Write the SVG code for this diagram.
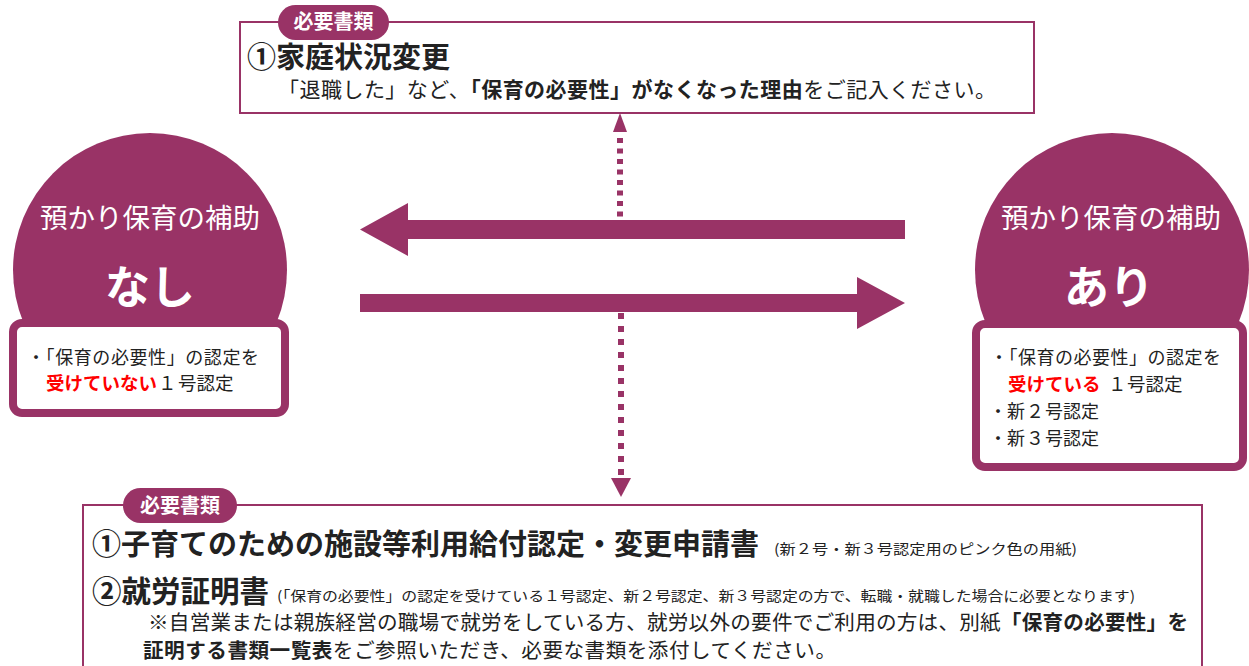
<svg xmlns="http://www.w3.org/2000/svg" width="1249" height="666" viewBox="0 0 1249 666">
<style>
.f{font-family:"Noto Sans CJK JP","Noto Sans",sans-serif;}
.t{font-family:"Noto Sans CJK JP","Noto Sans",sans-serif;fill:#222;}
.b{font-weight:700;}
.w{fill:#fff;}
.r{fill:#ff0000;font-weight:700;}
.box{fill:#fff;stroke:#993366;stroke-width:2;}
.pill{fill:#993366;}
.circ{fill:#993366;}
.inner{fill:#fff;stroke:#993366;stroke-width:8;}
.arrow{fill:#993366;}
.dot{stroke:#993366;stroke-width:6;fill:none;}
</style>
<rect width="1249" height="666" fill="#fff"/>

<g id="connectors">
  <line class="dot" x1="620" y1="138" x2="620" y2="219" stroke-dasharray="5 5.5"/>
  <polygon class="arrow" points="620,113 627,132 613,132"/>
  <line class="dot" x1="621" y1="313" x2="621" y2="478" stroke-dasharray="6 7"/>
  <polygon class="arrow" points="611,478 631,478 621,497"/>
  <polygon class="arrow" points="360,229.5 408,203 408,220 905,220 905,239 408,239 408,256"/>
  <polygon class="arrow" points="360,294 857,294 857,277 905,303 857,329 857,312 360,312"/>
</g>

<g id="node-top">
  <rect class="box" x="240" y="22" width="794" height="91"/>
  <rect class="pill" x="278" y="5" width="111" height="35" rx="17.5"/>
  <text class="f b w" x="333.5" y="29" font-size="20" text-anchor="middle">必要書類</text>
  <text class="t b" x="247" y="68" font-size="29">①家庭状況変更</text>
  <text class="t" x="278" y="97" font-size="21" textLength="718" lengthAdjust="spacing">「退職した」など、<tspan class="b">「保育の必要性」がなくなった理由</tspan>をご記入ください。</text>
</g>

<g id="node-nashi">
  <circle class="circ" cx="150" cy="270" r="137"/>
  <text class="f w" x="150" y="228" font-size="27.5" text-anchor="middle">預かり保育の補助</text>
  <text class="f b w" x="150" y="304" font-size="45" text-anchor="middle">なし</text>
  <rect class="inner" x="13" y="323" width="272" height="90" rx="9"/>
  <text class="t" x="27" y="364" font-size="18" textLength="232" lengthAdjust="spacing">・「保育の必要性」の認定を</text>
  <text class="t" x="46" y="390" font-size="18.5"><tspan class="r">受けていない</tspan><tspan x="158">１</tspan><tspan x="178">号認定</tspan></text>
</g>

<g id="node-ari">
  <circle class="circ" cx="1112" cy="270" r="137"/>
  <text class="f w" x="1111" y="228" font-size="27.5" text-anchor="middle">預かり保育の補助</text>
  <text class="f b w" x="1109" y="304" font-size="45" text-anchor="middle">あり</text>
  <rect class="inner" x="976" y="324" width="267" height="143" rx="9"/>
  <text class="t" x="990" y="364" font-size="18" textLength="231" lengthAdjust="spacing">・「保育の必要性」の認定を</text>
  <text class="t" x="1008" y="391" font-size="18.5"><tspan class="r">受けている</tspan><tspan x="1108">１</tspan><tspan x="1127">号認定</tspan></text>
  <text class="t" x="989" y="418" font-size="18">・新<tspan x="1026">２</tspan><tspan x="1045">号認定</tspan></text>
  <text class="t" x="989" y="445" font-size="18">・新<tspan x="1026">３</tspan><tspan x="1045">号認定</tspan></text>
</g>

<g id="node-bottom">
  <rect class="box" x="83" y="505" width="1119" height="200"/>
  <rect class="pill" x="123" y="488" width="114" height="35" rx="17.5"/>
  <text class="f b w" x="180" y="513" font-size="20" text-anchor="middle">必要書類</text>
  <text class="t b" x="92" y="555" font-size="29">①子育てのための施設等利用給付認定・変更申請書</text>
  <text class="t" x="774" y="554" font-size="14" textLength="303" lengthAdjust="spacingAndGlyphs">(新２号・新３号認定用のピンク色の用紙)</text>
  <text class="t b" x="92" y="602" font-size="29.5">②就労証明書</text>
  <text class="t" x="277" y="601" font-size="14" textLength="858" lengthAdjust="spacingAndGlyphs">(「保育の必要性」の認定を受けている１号認定、新２号認定、新３号認定の方で、転職・就職した場合に必要となります)</text>
  <text class="t" x="148" y="630" font-size="20.6" textLength="1040" lengthAdjust="spacing">※自営業または親族経営の職場で就労をしている方、就労以外の要件でご利用の方は、別紙<tspan class="b">「保育の必要性」を</tspan></text>
  <text class="t" x="143" y="657.5" font-size="20.6" textLength="693" lengthAdjust="spacing"><tspan class="b">証明する書類一覧表</tspan>をご参照いただき、必要な書類を添付してください。</text>
</g>
</svg>
